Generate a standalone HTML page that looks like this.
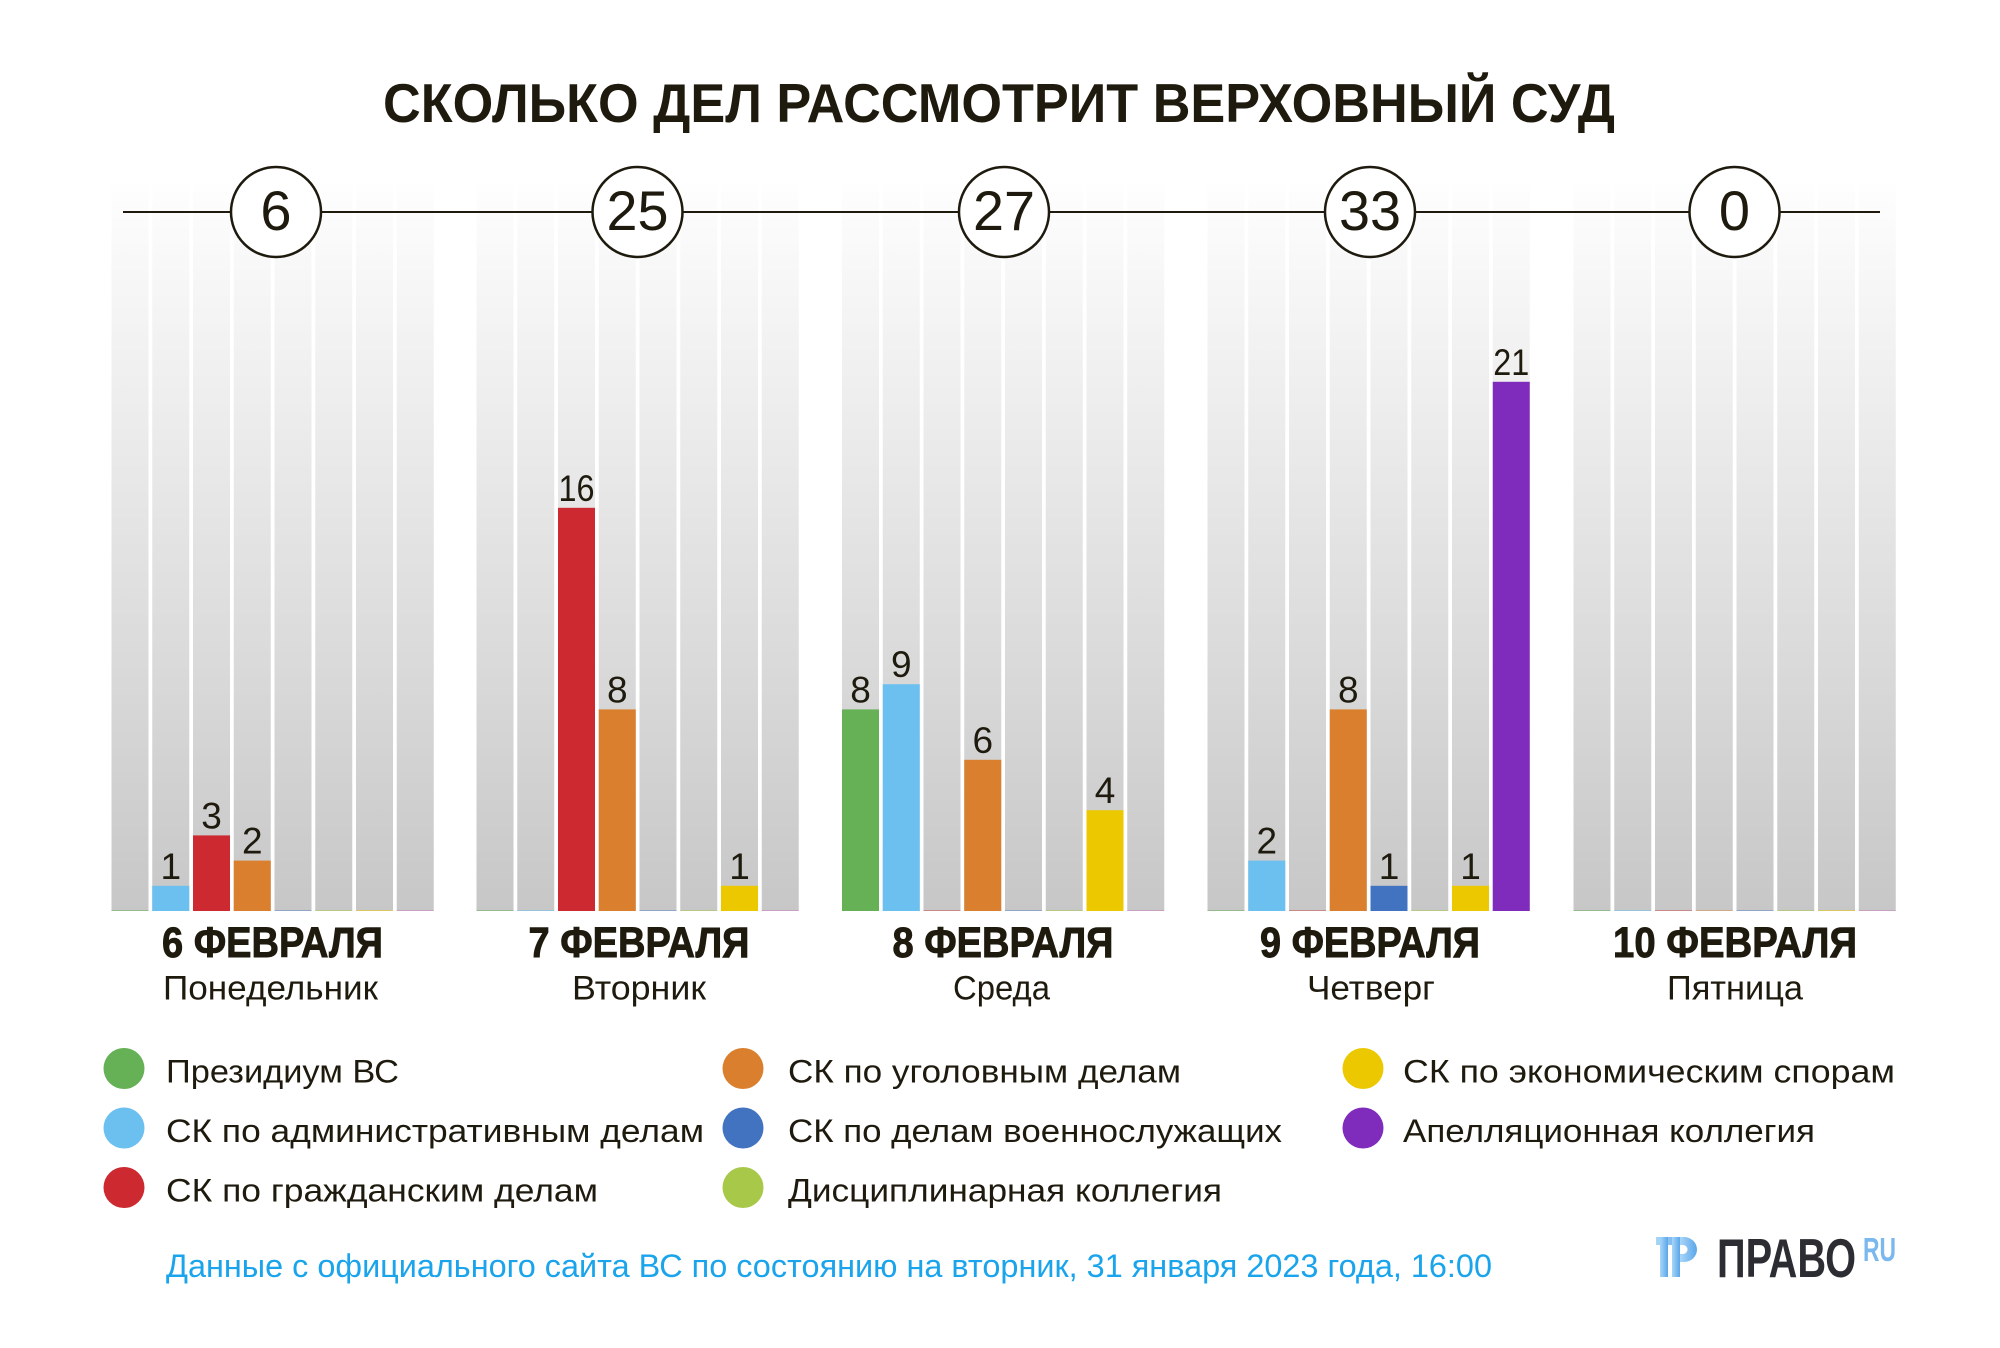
<!DOCTYPE html>
<html>
<head>
<meta charset="utf-8">
<style>
  html,body{margin:0;padding:0;background:#fff;}
  body{width:2000px;height:1348px;overflow:hidden;}
  svg{display:block;}
  text{font-family:"Liberation Sans","DejaVu Sans",sans-serif;fill:#1e1a0e;}
</style>
</head>
<body>
<svg width="2000" height="1348" viewBox="0 0 2000 1348" xmlns="http://www.w3.org/2000/svg">
  <defs>
    <linearGradient id="colg" gradientUnits="userSpaceOnUse" x1="0" y1="183" x2="0" y2="911">
      <stop offset="0" stop-color="#fefefe"/>
      <stop offset="1" stop-color="#c7c7c7"/>
    </linearGradient>
    <linearGradient id="logog" x1="0" y1="0" x2="1" y2="0">
      <stop offset="0" stop-color="#a9d6f8"/>
      <stop offset="1" stop-color="#5aa6ea"/>
    </linearGradient>
    <g id="cols">
      <rect x="0" y="183" width="37" height="728" fill="url(#colg)"/>
      <rect x="40.75" y="183" width="37" height="728" fill="url(#colg)"/>
      <rect x="81.5" y="183" width="37" height="728" fill="url(#colg)"/>
      <rect x="122.25" y="183" width="37" height="728" fill="url(#colg)"/>
      <rect x="163" y="183" width="37" height="728" fill="url(#colg)"/>
      <rect x="203.75" y="183" width="37" height="728" fill="url(#colg)"/>
      <rect x="244.5" y="183" width="37" height="728" fill="url(#colg)"/>
      <rect x="285.25" y="183" width="37" height="728" fill="url(#colg)"/>
      <rect x="0" y="910" width="37" height="1" fill="#66b055" opacity="0.5"/>
      <rect x="40.75" y="910" width="37" height="1" fill="#6cc0f0" opacity="0.5"/>
      <rect x="81.5" y="910" width="37" height="1" fill="#cc2a30" opacity="0.4"/>
      <rect x="122.25" y="910" width="37" height="1" fill="#da7f2d" opacity="0.4"/>
      <rect x="163" y="910" width="37" height="1" fill="#4173c0" opacity="0.4"/>
      <rect x="203.75" y="910" width="37" height="1" fill="#a8c84a" opacity="0.5"/>
      <rect x="244.5" y="910" width="37" height="1" fill="#ecc800" opacity="0.5"/>
      <rect x="285.25" y="910" width="37" height="1" fill="#c86ab8" opacity="0.4"/>
    </g>
  </defs>

  <!-- Title -->
  <text x="383" y="122" font-size="55" font-weight="bold" textLength="1232" lengthAdjust="spacingAndGlyphs">СКОЛЬКО ДЕЛ РАССМОТРИТ ВЕРХОВНЫЙ СУД</text>

  <!-- Column backgrounds -->
  <use href="#cols" x="111.5" y="0"/>
  <use href="#cols" x="476.5" y="0"/>
  <use href="#cols" x="842" y="0"/>
  <use href="#cols" x="1207.5" y="0"/>
  <use href="#cols" x="1573.5" y="0"/>

  <!-- Top line + circles -->
  <line x1="123" y1="212" x2="1880" y2="212" stroke="#1e1a0e" stroke-width="2"/>
  <g fill="#fff" stroke="#1e1a0e" stroke-width="2.5">
    <circle cx="276" cy="212" r="45"/>
    <circle cx="637.5" cy="212" r="45"/>
    <circle cx="1004" cy="212" r="45"/>
    <circle cx="1370" cy="212" r="45"/>
    <circle cx="1734.5" cy="212" r="45"/>
  </g>
  <g font-size="56" text-anchor="middle">
    <text x="276" y="230">6</text>
    <text x="637.5" y="230" textLength="62" lengthAdjust="spacingAndGlyphs">25</text>
    <text x="1004" y="230" textLength="62" lengthAdjust="spacingAndGlyphs">27</text>
    <text x="1370" y="230" textLength="62" lengthAdjust="spacingAndGlyphs">33</text>
    <text x="1734.5" y="230">0</text>
  </g>

  <!-- Bars -->
  <rect x="152.25" y="885.8" width="37" height="25.2" fill="#6cc0f0"/>
  <rect x="193" y="835.4" width="37" height="75.6" fill="#cc2a30"/>
  <rect x="233.75" y="860.6" width="37" height="50.4" fill="#da7f2d"/>

  <rect x="558" y="507.8" width="37" height="403.2" fill="#cc2a30"/>
  <rect x="598.75" y="709.4" width="37" height="201.6" fill="#da7f2d"/>
  <rect x="721" y="885.8" width="37" height="25.2" fill="#ecc800"/>

  <rect x="842" y="709.4" width="37" height="201.6" fill="#66b055"/>
  <rect x="882.75" y="684.2" width="37" height="226.8" fill="#6cc0f0"/>
  <rect x="964.25" y="759.8" width="37" height="151.2" fill="#da7f2d"/>
  <rect x="1086.5" y="810.2" width="37" height="100.8" fill="#ecc800"/>

  <rect x="1248.25" y="860.6" width="37" height="50.4" fill="#6cc0f0"/>
  <rect x="1329.75" y="709.4" width="37" height="201.6" fill="#da7f2d"/>
  <rect x="1370.5" y="885.8" width="37" height="25.2" fill="#4173c0"/>
  <rect x="1452" y="885.8" width="37" height="25.2" fill="#ecc800"/>
  <rect x="1492.75" y="381.8" width="37" height="529.2" fill="#7f2cbd"/>

  <!-- Bar labels -->
  <g font-size="37" text-anchor="middle">
    <text x="170.75" y="878.8">1</text>
    <text x="211.5" y="828.4">3</text>
    <text x="252.25" y="853.6">2</text>

    <text x="576.5" y="500.8" textLength="36" lengthAdjust="spacingAndGlyphs">16</text>
    <text x="617.25" y="702.4">8</text>
    <text x="739.5" y="878.8">1</text>

    <text x="860.5" y="702.4">8</text>
    <text x="901.25" y="677.2">9</text>
    <text x="982.75" y="752.8">6</text>
    <text x="1105" y="803.2">4</text>

    <text x="1266.75" y="853.6">2</text>
    <text x="1348.25" y="702.4">8</text>
    <text x="1389" y="878.8">1</text>
    <text x="1470.5" y="878.8">1</text>
    <text x="1511.25" y="374.8" textLength="36" lengthAdjust="spacingAndGlyphs">21</text>
  </g>

  <!-- Date labels -->
  <g font-size="43" font-weight="bold" text-anchor="middle" stroke="#1e1a0e" stroke-width="0.9">
    <text x="272.5" y="957" textLength="221" lengthAdjust="spacingAndGlyphs">6 ФЕВРАЛЯ</text>
    <text x="639" y="957" textLength="221" lengthAdjust="spacingAndGlyphs">7 ФЕВРАЛЯ</text>
    <text x="1003" y="957" textLength="221" lengthAdjust="spacingAndGlyphs">8 ФЕВРАЛЯ</text>
    <text x="1370" y="957" textLength="220" lengthAdjust="spacingAndGlyphs">9 ФЕВРАЛЯ</text>
    <text x="1735" y="957" textLength="244" lengthAdjust="spacingAndGlyphs">10 ФЕВРАЛЯ</text>
  </g>
  <g font-size="34" text-anchor="middle">
    <text x="270.5" y="999.5" textLength="215" lengthAdjust="spacingAndGlyphs">Понедельник</text>
    <text x="639" y="999.5" textLength="134" lengthAdjust="spacingAndGlyphs">Вторник</text>
    <text x="1001.5" y="999.5" textLength="97" lengthAdjust="spacingAndGlyphs">Среда</text>
    <text x="1371" y="999.5" textLength="128" lengthAdjust="spacingAndGlyphs">Четверг</text>
    <text x="1735" y="999.5" textLength="136" lengthAdjust="spacingAndGlyphs">Пятница</text>
  </g>

  <!-- Legend -->
  <circle cx="124" cy="1068.5" r="20.5" fill="#66b055"/>
  <circle cx="124" cy="1128" r="20.5" fill="#6cc0f0"/>
  <circle cx="124" cy="1187.5" r="20.5" fill="#cc2a30"/>
  <circle cx="743" cy="1068.5" r="20.5" fill="#da7f2d"/>
  <circle cx="743" cy="1128" r="20.5" fill="#4173c0"/>
  <circle cx="743" cy="1187.5" r="20.5" fill="#a8c84a"/>
  <circle cx="1363" cy="1068.5" r="20.5" fill="#ecc800"/>
  <circle cx="1363" cy="1128" r="20.5" fill="#7f2cbd"/>
  <g font-size="32">
    <text x="166" y="1082.7" textLength="233" lengthAdjust="spacingAndGlyphs">Президиум ВС</text>
    <text x="166" y="1142" textLength="538" lengthAdjust="spacingAndGlyphs">СК по административным делам</text>
    <text x="166" y="1201.7" textLength="432" lengthAdjust="spacingAndGlyphs">СК по гражданским делам</text>
    <text x="788" y="1082.7" textLength="393" lengthAdjust="spacingAndGlyphs">СК по уголовным делам</text>
    <text x="788" y="1142" textLength="494" lengthAdjust="spacingAndGlyphs">СК по делам военнослужащих</text>
    <text x="788" y="1201.7" textLength="434" lengthAdjust="spacingAndGlyphs">Дисциплинарная коллегия</text>
    <text x="1403" y="1082.7" textLength="492" lengthAdjust="spacingAndGlyphs">СК по экономическим спорам</text>
    <text x="1403" y="1142" textLength="412" lengthAdjust="spacingAndGlyphs">Апелляционная коллегия</text>
  </g>

  <!-- Footer -->
  <text x="166" y="1277" font-size="32" style="fill:#19a4ec" textLength="1326" lengthAdjust="spacingAndGlyphs">Данные с официального сайта ВС по состоянию на вторник, 31 января 2023 года, 16:00</text>

  <!-- Logo -->
  <g fill="url(#logog)">
    <rect x="1656" y="1237" width="30" height="8"/>
    <rect x="1660" y="1237" width="8" height="40"/>
    <rect x="1672" y="1237" width="8" height="40"/>
    <path d="M1680 1237 L1684 1237 A13 12.5 0 0 1 1684 1262 L1680 1262 L1680 1254 L1683 1254 A4.5 4.5 0 0 0 1683 1245 L1680 1245 Z"/>
  </g>
  <text x="1717" y="1277" font-size="55" font-weight="bold" style="fill:#2b2d33" textLength="139" lengthAdjust="spacingAndGlyphs">ПРАВО</text>
  <text x="1863" y="1261" font-size="33" font-weight="bold" style="fill:#7ab8ee" textLength="33" lengthAdjust="spacingAndGlyphs">RU</text>
</svg>
</body>
</html>
